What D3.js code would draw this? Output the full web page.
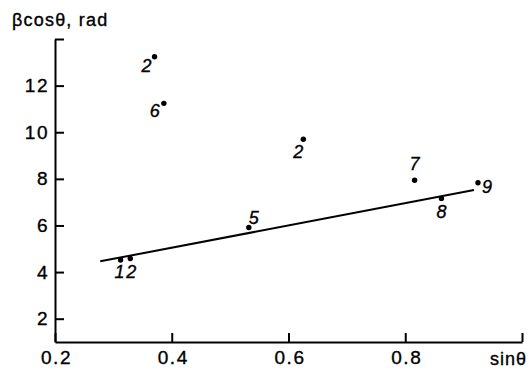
<!DOCTYPE html>
<html>
<head>
<meta charset="utf-8">
<script src="https://cdn.jsdelivr.net/npm/d3@7"></script>
<style>
    body { margin: 0; background: #fff; }
    svg text { font-family: "Liberation Sans", Arial, sans-serif; fill: #000; stroke: #000; stroke-width: 0.35px; }
</style>
</head>
<body>
<svg id="chart" width="529" height="370"></svg>
<script>
/***************************************************************
    Data
****************************************************************/
const pointX = [0.3705, 0.3865, 0.6254, 0.816, 0.9246, 0.862, 0.532, 0.3123, 0.329];
const pointY = [13.24, 11.24, 9.70, 7.94, 7.83, 7.16, 5.91, 4.52, 4.58];
const pointLabels = ["2", "6", "2", "7", "9", "8", "5", "1", "2"];

const fitX = [0.2775, 0.9178];
const fitY = [4.46, 7.52];

const xTicks = [0.2, 0.4, 0.6, 0.8, 1.0];
const xTickLabels = ["0.2", "0.4", "0.6", "0.8", ""];
const yTicks = [2, 4, 6, 8, 10, 12, 14];
const yTickLabels = ["2", "4", "6", "8", "10", "12", ""];

// label placement (anchor, dx, dy) for each point label
const labelPlace = [
    ["end", -3, 15], ["end", -4, 14], ["end", 0, 19], ["middle", 0, -10], ["start", 4, 10],
    ["middle", 0, 20], ["start", 0, -4], ["middle", -1, 18], ["middle", 1, 19]
];

/***************************************************************
    Chart
****************************************************************/
const svg = d3.select("#chart");
const x = d3.scaleLinear().domain([0.2, 1.0]).range([55, 522]);
const y = d3.scaleLinear().domain([1, 14]).range([342, 39]);

const xAxis = svg.append("g").attr("transform", "translate(0,342)")
    .call(d3.axisBottom(x).tickValues(xTicks).tickSizeInner(-9).tickSizeOuter(0)
        .tickPadding(9).tickFormat((d, i) => xTickLabels[i]));
const yAxis = svg.append("g").attr("transform", "translate(55,0)")
    .call(d3.axisLeft(y).tickValues(yTicks).tickSizeInner(-9).tickSizeOuter(0)
        .tickPadding(6).tickFormat((d, i) => yTickLabels[i]));

[xAxis, yAxis].forEach(a => {
    a.attr("font-size", 19).attr("font-family", null);
    a.select(".domain").attr("stroke", "#000").attr("stroke-width", 2);
    a.selectAll(".tick line").attr("stroke", "#000").attr("stroke-width", 2);
    a.selectAll(".tick text").attr("letter-spacing", "1.5px");
});
xAxis.selectAll(".tick text").attr("dx", "1px");

svg.append("text").attr("x", 12).attr("y", 26).attr("font-size", 18)
    .attr("letter-spacing", "1.2px").text("βcosθ, rad");
svg.append("text").attr("x", 490).attr("y", 365).attr("font-size", 18)
    .attr("letter-spacing", "1px").text("sinθ");

// fitted line
svg.append("line")
    .attr("x1", x(fitX[0])).attr("y1", y(fitY[0]))
    .attr("x2", x(fitX[1])).attr("y2", y(fitY[1]))
    .attr("stroke", "#000").attr("stroke-width", 2);

const pts = pointX.map((v, i) => ({ x: v, y: pointY[i], label: pointLabels[i], place: labelPlace[i] }));

svg.append("g").selectAll("circle").data(pts).enter().append("circle")
    .attr("cx", d => x(d.x)).attr("cy", d => y(d.y)).attr("r", 2.7).attr("fill", "#000");

svg.append("g").selectAll("text").data(pts).enter().append("text")
    .attr("x", d => x(d.x) + d.place[1]).attr("y", d => y(d.y) + d.place[2])
    .attr("text-anchor", d => d.place[0])
    .attr("font-size", 18).attr("font-style", "italic")
    .text(d => d.label);
</script>
</body>
</html>
